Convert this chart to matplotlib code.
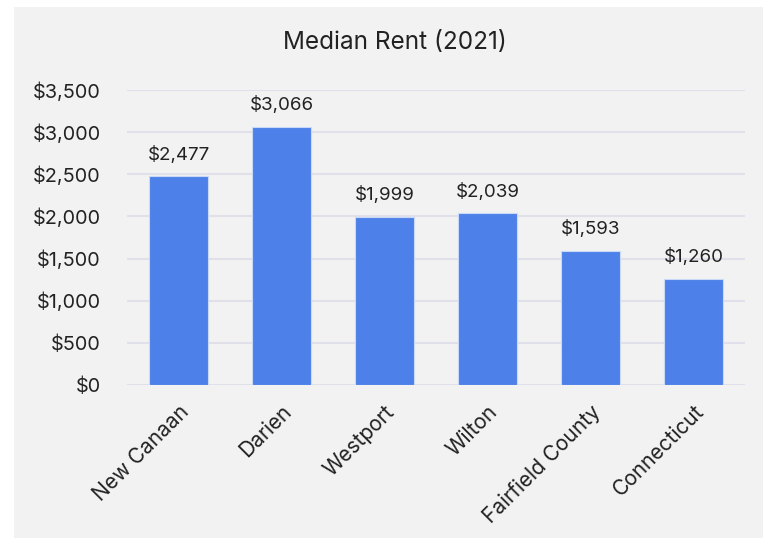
import matplotlib.pyplot as plt
from matplotlib.patches import Rectangle
from matplotlib.ticker import FuncFormatter

places = ["New Canaan", "Darien", "Westport", "Wilton", "Fairfield County", "Connecticut"]
median_rent = [2477, 3066, 1999, 2039, 1593, 1260]
y_ticks = [0, 500, 1000, 1500, 2000, 2500, 3000, 3500]

plt.rcParams['font.family'] = ['Inter', 'DejaVu Sans']
text_color = '#222222'
bg = '#f2f2f2'

fig = plt.figure(figsize=(7.63, 5.38), dpi=100, facecolor='white')
fig.patches.append(Rectangle((14 / 763, 0), 1, 1 - 7 / 538, transform=fig.transFigure,
                             facecolor=bg, edgecolor='none', zorder=-10))

ax = fig.add_axes([127 / 763, 1 - 385 / 538, (745 - 127) / 763, (385 - 90) / 538])
ax.set_facecolor(bg)
ax.patch.set_alpha(0)

x = range(len(places))
bars = ax.bar(x, median_rent, width=0.57, color='#4d80e8', edgecolor='#c9d9f7',
              linewidth=0.8, zorder=3)

for xi, v in zip(x, median_rent):
    ax.annotate(f"${v:,}", (xi, v), xytext=(0, 9), textcoords='offset points',
                ha='center', va='bottom', fontsize=13.5, color=text_color)

ax.set_xlim(-0.5, len(places) - 0.5)
ax.set_ylim(0, 3500)
ax.set_yticks(y_ticks)
ax.yaxis.set_major_formatter(FuncFormatter(lambda v, p: f"${int(v):,}"))
ax.grid(axis='y', color='#e0e0ea', linewidth=1.5, zorder=0)
ax.set_axisbelow(True)
for s in ax.spines.values():
    s.set_visible(False)
ax.tick_params(axis='both', length=0, labelsize=14.3, colors=text_color)
ax.tick_params(axis='y', pad=19)

ax.set_xticks(list(x))
ax.set_xticklabels(places, rotation=45, ha='right', rotation_mode='anchor', fontsize=15)
ax.tick_params(axis='x', pad=12)

fig.text(395 / 763, 1 - 43 / 538, "Median Rent (2021)", ha='center', va='center',
         fontsize=17.5, color=text_color)

fig.savefig('out.png', dpi=100, facecolor='white')
